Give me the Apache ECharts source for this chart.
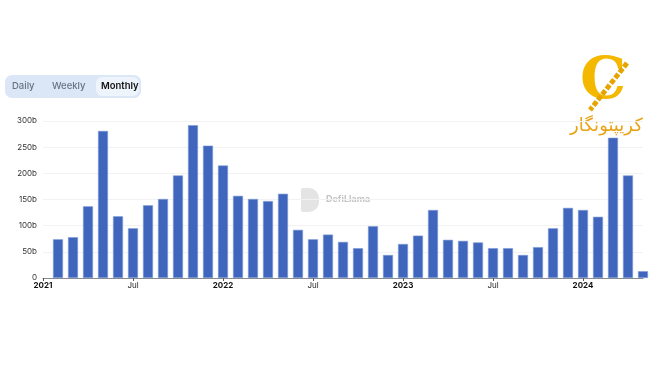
<!DOCTYPE html>
<html>
<head>
<meta charset="utf-8">
<script src="https://cdn.jsdelivr.net/npm/echarts@6/dist/echarts.min.js"></script>
<style>html,body{margin:0;padding:0;background:#fff}#c{width:650px;height:365px}</style>
</head>
<body>
<div id="c"></div>
<script>
const months = ['2021-01','2021-02','2021-03','2021-04','2021-05','2021-06','2021-07','2021-08','2021-09','2021-10','2021-11','2021-12',
'2022-01','2022-02','2022-03','2022-04','2022-05','2022-06','2022-07','2022-08','2022-09','2022-10','2022-11','2022-12',
'2023-01','2023-02','2023-03','2023-04','2023-05','2023-06','2023-07','2023-08','2023-09','2023-10','2023-11','2023-12',
'2024-01','2024-02','2024-03','2024-04','2024-05'];
const volumes = [null,74,78,137,281,118,95,139,151,196,292,253,
215,157,151,147,161,92,74,83,69,57,99,44,
65,81,130,73,71,68,57,57,44,59,95,134,
130,117,268,196,13];
const yTicks = [0,50,100,150,200,250,300];
const toggleLabels = ['Daily','Weekly','Monthly'];

const chart = echarts.init(document.getElementById('c'));
const showTick = (i, v) => v.endsWith('-01') || v.endsWith('-07');
chart.setOption({
  animation: false,
  grid: {left: 43, right: 7, top: 121, bottom: 87},
  xAxis: {
    type: 'category', data: months, boundaryGap: false,
    axisLine: {lineStyle: {color: '#8a8a8a'}},
    axisTick: {interval: showTick, length: 3, lineStyle: {color: '#555'}},
    axisLabel: {
      interval: showTick, fontSize: 8, color: '#222', margin: 4,
      fontFamily: 'Inter',
      formatter: v => v.endsWith('-01') ? '{y|' + v.slice(0,4) + '}' : 'Jul',
      rich: {y: {fontWeight: 'bold', fontSize: 8, color: '#111', fontFamily: 'Inter'}}
    }
  },
  yAxis: {
    type: 'value', min: yTicks[0], max: yTicks[yTicks.length-1], interval: 50,
    axisLine: {show: false}, axisTick: {show: false},
    splitLine: {lineStyle: {color: '#f2f2f2'}},
    axisLabel: {fontSize: 8, color: '#333', margin: 6, fontFamily: 'Inter',
      formatter: v => v === 0 ? '0' : v + 'b'}
  },
  series: [{
    type: 'bar', data: volumes, barWidth: 10,
    itemStyle: {color: '#3f66bc', borderColor: '#7f9ad6', borderWidth: 0.6}
  }],
  graphic: [
    {type: 'rect', shape: {x: 5, y: 75, width: 136, height: 23, r: 7}, style: {fill: '#dbe7f7'}},
    {type: 'rect', shape: {x: 96, y: 77, width: 43, height: 19, r: 6}, style: {fill: '#eef4fc'}},
    {type: 'text', left: 12, top: 81, style: {text: toggleLabels[0], fontSize: 9.5, fontWeight: 500, fill: '#6b7280', fontFamily: 'Inter'}},
    {type: 'text', left: 52, top: 81, style: {text: toggleLabels[1], fontSize: 9.5, fontWeight: 500, fill: '#6b7280', fontFamily: 'Inter'}},
    {type: 'text', left: 101, top: 81, style: {text: toggleLabels[2], fontSize: 9.5, fontWeight: 600, fill: '#111', fontFamily: 'Inter'}},
    {type: 'rect', shape: {x: 301, y: 188, width: 18, height: 24, r: [2,10,10,2]}, style: {fill: '#e4e4e4'}},
    {type: 'text', left: 326, top: 195, style: {text: 'DefiLlama', fontSize: 9, fontWeight: 'bold', fill: '#c4c4c4', fontFamily: 'Inter'}},
    {type: 'text', left: 580, top: 54, style: {text: 'C', fontSize: 58, fontWeight: 'bold', fill: '#f5b800', fontFamily: 'DejaVu Serif'}},
    {type: 'line', shape: {x1: 627, y1: 63, x2: 590, y2: 110}, style: {stroke: '#e6a400', lineWidth: 5, lineDash: [5, 2]}},
    {type: 'text', left: 570, top: 117, style: {text: 'کریپتونگار', fontSize: 18, fill: '#e8a317', fontFamily: 'DejaVu Sans'}}
  ]
});
</script>
</body>
</html>
